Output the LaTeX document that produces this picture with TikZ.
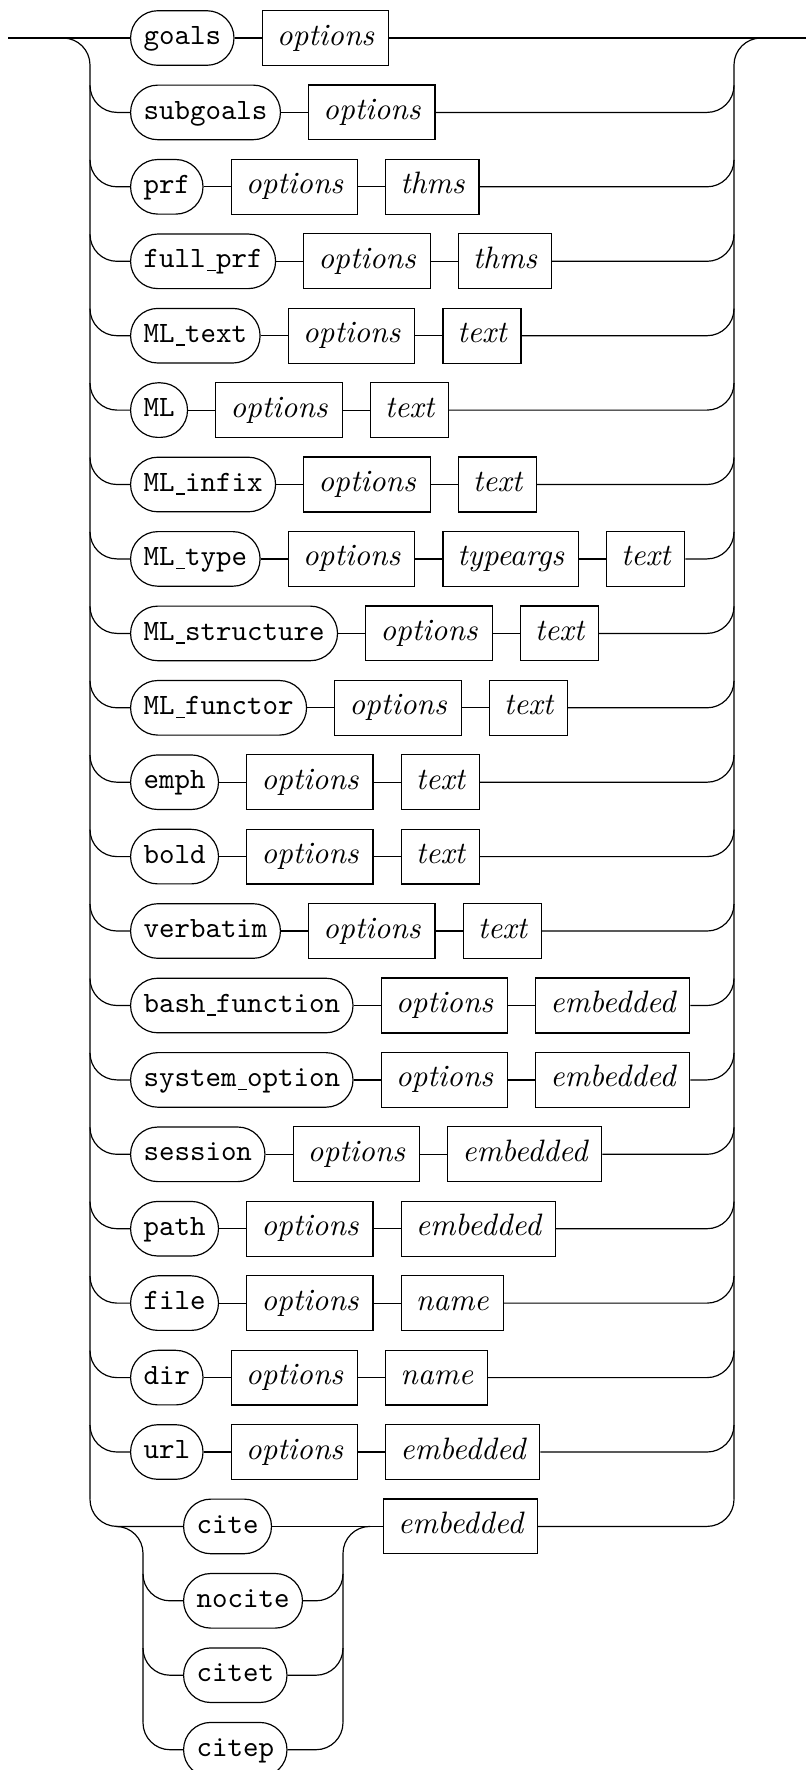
\documentclass[tikz,border=0pt]{standalone}
\usepackage{fontspec}
\usetikzlibrary{positioning,calc}
\newcommand{\uscore}{\leavevmode\kern.06em\lower1.2pt\vbox{\hrule height.5pt width.3em}}
\begin{document}
\begin{tikzpicture}[x=0.339pt, y=-0.339pt, node distance=9.2pt,
    term/.style={draw, rounded corners=9.2pt, minimum height=18.5pt, minimum width=18.5pt,
      inner xsep=4.4pt, text height=6.5pt, text depth=2pt, font=\ttfamily},
    nonterm/.style={draw, minimum height=18.6pt, inner xsep=4.9pt,
      text height=6.8pt, text depth=2pt, font=\fontsize{10.5}{12}\selectfont\itshape},
    rail/.style={rounded corners=9.15pt}]
\useasboundingbox (0,0) rectangle (806,1770);
\coordinate (entry) at (8,38);
\coordinate (exit) at (806,38);
\coordinate (lsplit) at (63,38);
\coordinate (lend) at (90,1499.4);
\coordinate (rsplit) at (761,38);
\coordinate (rend) at (734,1499.4);
\draw[rail] (lsplit) -| (lend);
\draw[rail] (rsplit) -| (rend);
\node[term, anchor=west] (goals) at (130,38) {goals};
\node[nonterm, right=of goals] (goalsopt) {options};
\draw (entry) -- (goals);
\draw (goals) -- (goalsopt);
\draw (goalsopt) -- (exit);
\node[term, anchor=west] (subgoals) at (130,112.4) {subgoals};
\node[nonterm, right=of subgoals] (subgoalsopt) {options};
\draw (subgoals) -- (subgoalsopt);
\draw[rail] ($(lend |- subgoals)+(0,-27)$) |- (subgoals);
\draw[rail] (subgoalsopt) -| ($(rend |- subgoals)+(0,-27)$);
\node[term, anchor=west] (prf) at (130,186.8) {prf};
\node[nonterm, right=of prf] (prfopt) {options};
\node[nonterm, right=of prfopt] (prfthms) {thms};
\draw (prf) -- (prfopt);
\draw (prfopt) -- (prfthms);
\draw[rail] ($(lend |- prf)+(0,-27)$) |- (prf);
\draw[rail] (prfthms) -| ($(rend |- prf)+(0,-27)$);
\node[term, anchor=west] (fullprf) at (130,261.3) {full\uscore prf};
\node[nonterm, right=of fullprf] (fullprfopt) {options};
\node[nonterm, right=of fullprfopt] (fullprfthms) {thms};
\draw (fullprf) -- (fullprfopt);
\draw (fullprfopt) -- (fullprfthms);
\draw[rail] ($(lend |- fullprf)+(0,-27)$) |- (fullprf);
\draw[rail] (fullprfthms) -| ($(rend |- fullprf)+(0,-27)$);
\node[term, anchor=west] (mltext) at (130,335.7) {ML\uscore text};
\node[nonterm, right=of mltext] (mltextopt) {options};
\node[nonterm, right=of mltextopt] (mltextarg) {text};
\draw (mltext) -- (mltextopt);
\draw (mltextopt) -- (mltextarg);
\draw[rail] ($(lend |- mltext)+(0,-27)$) |- (mltext);
\draw[rail] (mltextarg) -| ($(rend |- mltext)+(0,-27)$);
\node[term, anchor=west] (ml) at (130,410.1) {ML};
\node[nonterm, right=of ml] (mlopt) {options};
\node[nonterm, right=of mlopt] (mlarg) {text};
\draw (ml) -- (mlopt);
\draw (mlopt) -- (mlarg);
\draw[rail] ($(lend |- ml)+(0,-27)$) |- (ml);
\draw[rail] (mlarg) -| ($(rend |- ml)+(0,-27)$);
\node[term, anchor=west] (mlinfix) at (130,484.5) {ML\uscore infix};
\node[nonterm, right=of mlinfix] (mlinfixopt) {options};
\node[nonterm, right=of mlinfixopt] (mlinfixarg) {text};
\draw (mlinfix) -- (mlinfixopt);
\draw (mlinfixopt) -- (mlinfixarg);
\draw[rail] ($(lend |- mlinfix)+(0,-27)$) |- (mlinfix);
\draw[rail] (mlinfixarg) -| ($(rend |- mlinfix)+(0,-27)$);
\node[term, anchor=west] (mltype) at (130,558.9) {ML\uscore type};
\node[nonterm, right=of mltype] (mltypeopt) {options};
\node[nonterm, right=of mltypeopt] (mltypeargs) {typeargs};
\node[nonterm, right=of mltypeargs] (mltypearg) {text};
\draw (mltype) -- (mltypeopt);
\draw (mltypeopt) -- (mltypeargs);
\draw (mltypeargs) -- (mltypearg);
\draw[rail] ($(lend |- mltype)+(0,-27)$) |- (mltype);
\draw[rail] (mltypearg) -| ($(rend |- mltype)+(0,-27)$);
\node[term, anchor=west] (mlstruct) at (130,633.4) {ML\uscore structure};
\node[nonterm, right=of mlstruct] (mlstructopt) {options};
\node[nonterm, right=of mlstructopt] (mlstructarg) {text};
\draw (mlstruct) -- (mlstructopt);
\draw (mlstructopt) -- (mlstructarg);
\draw[rail] ($(lend |- mlstruct)+(0,-27)$) |- (mlstruct);
\draw[rail] (mlstructarg) -| ($(rend |- mlstruct)+(0,-27)$);
\node[term, anchor=west] (mlfunct) at (130,707.8) {ML\uscore functor};
\node[nonterm, right=of mlfunct] (mlfunctopt) {options};
\node[nonterm, right=of mlfunctopt] (mlfunctarg) {text};
\draw (mlfunct) -- (mlfunctopt);
\draw (mlfunctopt) -- (mlfunctarg);
\draw[rail] ($(lend |- mlfunct)+(0,-27)$) |- (mlfunct);
\draw[rail] (mlfunctarg) -| ($(rend |- mlfunct)+(0,-27)$);
\node[term, anchor=west] (emph) at (130,782.2) {emph};
\node[nonterm, right=of emph] (emphopt) {options};
\node[nonterm, right=of emphopt] (empharg) {text};
\draw (emph) -- (emphopt);
\draw (emphopt) -- (empharg);
\draw[rail] ($(lend |- emph)+(0,-27)$) |- (emph);
\draw[rail] (empharg) -| ($(rend |- emph)+(0,-27)$);
\node[term, anchor=west] (bold) at (130,856.6) {bold};
\node[nonterm, right=of bold] (boldopt) {options};
\node[nonterm, right=of boldopt] (boldarg) {text};
\draw (bold) -- (boldopt);
\draw (boldopt) -- (boldarg);
\draw[rail] ($(lend |- bold)+(0,-27)$) |- (bold);
\draw[rail] (boldarg) -| ($(rend |- bold)+(0,-27)$);
\node[term, anchor=west] (verb) at (130,931.0) {verbatim};
\node[nonterm, right=of verb] (verbopt) {options};
\node[nonterm, right=of verbopt] (verbarg) {text};
\draw (verb) -- (verbopt);
\draw (verbopt) -- (verbarg);
\draw[rail] ($(lend |- verb)+(0,-27)$) |- (verb);
\draw[rail] (verbarg) -| ($(rend |- verb)+(0,-27)$);
\node[term, anchor=west] (bashfn) at (130,1005.5) {bash\uscore function};
\node[nonterm, right=of bashfn] (bashfnopt) {options};
\node[nonterm, right=of bashfnopt] (bashfnemb) {embedded};
\draw (bashfn) -- (bashfnopt);
\draw (bashfnopt) -- (bashfnemb);
\draw[rail] ($(lend |- bashfn)+(0,-27)$) |- (bashfn);
\draw[rail] (bashfnemb) -| ($(rend |- bashfn)+(0,-27)$);
\node[term, anchor=west] (sysopt) at (130,1079.9) {system\uscore option};
\node[nonterm, right=of sysopt] (sysoptopt) {options};
\node[nonterm, right=of sysoptopt] (sysoptemb) {embedded};
\draw (sysopt) -- (sysoptopt);
\draw (sysoptopt) -- (sysoptemb);
\draw[rail] ($(lend |- sysopt)+(0,-27)$) |- (sysopt);
\draw[rail] (sysoptemb) -| ($(rend |- sysopt)+(0,-27)$);
\node[term, anchor=west] (session) at (130,1154.3) {session};
\node[nonterm, right=of session] (sessionopt) {options};
\node[nonterm, right=of sessionopt] (sessionemb) {embedded};
\draw (session) -- (sessionopt);
\draw (sessionopt) -- (sessionemb);
\draw[rail] ($(lend |- session)+(0,-27)$) |- (session);
\draw[rail] (sessionemb) -| ($(rend |- session)+(0,-27)$);
\node[term, anchor=west] (path) at (130,1228.7) {path};
\node[nonterm, right=of path] (pathopt) {options};
\node[nonterm, right=of pathopt] (pathemb) {embedded};
\draw (path) -- (pathopt);
\draw (pathopt) -- (pathemb);
\draw[rail] ($(lend |- path)+(0,-27)$) |- (path);
\draw[rail] (pathemb) -| ($(rend |- path)+(0,-27)$);
\node[term, anchor=west] (file) at (130,1303.1) {file};
\node[nonterm, right=of file] (fileopt) {options};
\node[nonterm, right=of fileopt] (filename) {name};
\draw (file) -- (fileopt);
\draw (fileopt) -- (filename);
\draw[rail] ($(lend |- file)+(0,-27)$) |- (file);
\draw[rail] (filename) -| ($(rend |- file)+(0,-27)$);
\node[term, anchor=west] (dir) at (130,1377.6) {dir};
\node[nonterm, right=of dir] (diropt) {options};
\node[nonterm, right=of diropt] (dirname) {name};
\draw (dir) -- (diropt);
\draw (diropt) -- (dirname);
\draw[rail] ($(lend |- dir)+(0,-27)$) |- (dir);
\draw[rail] (dirname) -| ($(rend |- dir)+(0,-27)$);
\node[term, anchor=west] (url) at (130,1452.0) {url};
\node[nonterm, right=of url] (urlopt) {options};
\node[nonterm, right=of urlopt] (urlemb) {embedded};
\draw (url) -- (urlopt);
\draw (urlopt) -- (urlemb);
\draw[rail] ($(lend |- url)+(0,-27)$) |- (url);
\draw[rail] (urlemb) -| ($(rend |- url)+(0,-27)$);
\coordinate (ilsplit) at (116,1526.4);
\coordinate (ilend) at (143,1722.7);
\coordinate (irsplit) at (370,1526.4);
\coordinate (irend) at (343,1722.7);
\draw[rail] (ilsplit) -| (ilend);
\draw[rail] (irsplit) -| (irend);
\node[term, anchor=west] (cite) at (183,1526.4) {cite};
\node[term, anchor=west] (nocite) at (183,1600.8) {nocite};
\node[term, anchor=west] (citet) at (183,1675.2) {citet};
\node[term, anchor=west] (citep) at (183,1749.7) {citep};
\node[nonterm, anchor=west] (citeemb) at (383,1526.4) {embedded};
\draw[rail] ($(lend |- cite)+(0,-27)$) |- (cite);
\draw (cite) -- (citeemb);
\draw[rail] ($(ilend |- nocite)+(0,-27)$) |- (nocite);
\draw[rail] ($(ilend |- citet)+(0,-27)$) |- (citet);
\draw[rail] ($(ilend |- citep)+(0,-27)$) |- (citep);
\draw[rail] (nocite) -| ($(irend |- nocite)+(0,-27)$);
\draw[rail] (citet) -| ($(irend |- citet)+(0,-27)$);
\draw[rail] (citep) -| ($(irend |- citep)+(0,-27)$);
\draw[rail] (citeemb) -| ($(rend |- cite)+(0,-27)$);
\end{tikzpicture}
\end{document}
